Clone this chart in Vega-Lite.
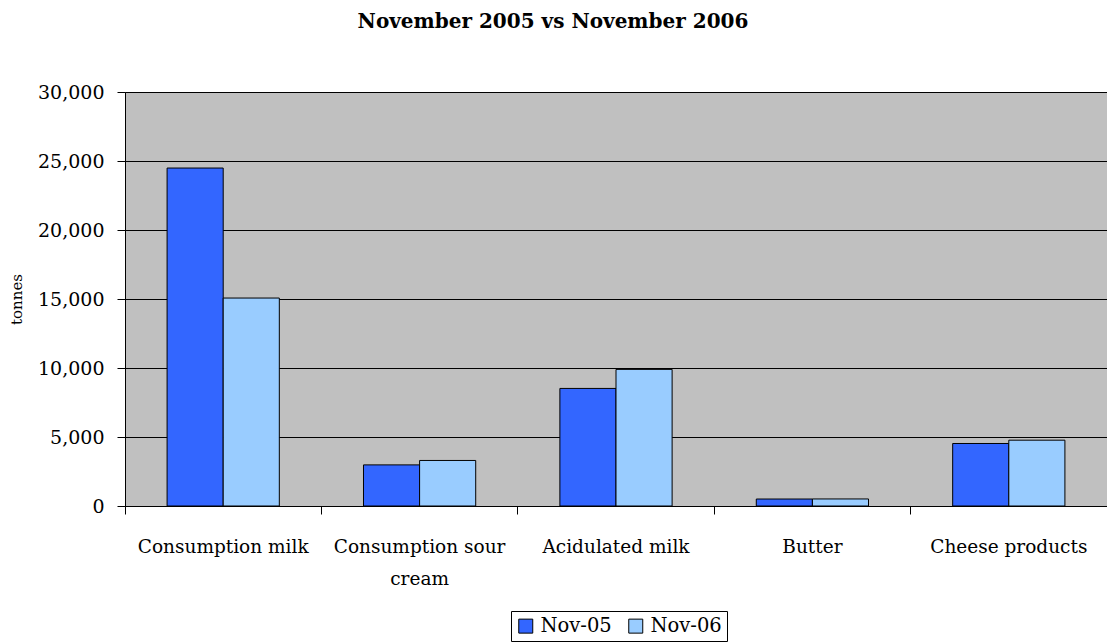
{
  "$schema": "https://vega.github.io/schema/vega-lite/v6.json",
  "width": 982,
  "height": 414,
  "autosize": {"type": "none"},
  "padding": {"left": 125, "top": 92, "right": 0, "bottom": 138},
  "background": "white",
  "title": {
    "text": "November 2005 vs November 2006",
    "font": "DejaVu Serif",
    "fontSize": 20,
    "fontWeight": "bold",
    "color": "black",
    "anchor": "middle",
    "frame": "group",
    "dx": -63,
    "offset": 51
  },
  "config": {
    "view": {"fill": "#C0C0C0", "stroke": "#666666", "strokeWidth": 1}
  },
  "data": {
    "values": [
      {"product": "Consumption milk", "month": "Nov-05", "tonnes": 24490},
      {"product": "Consumption milk", "month": "Nov-06", "tonnes": 15070},
      {"product": "Consumption sour cream", "month": "Nov-05", "tonnes": 2980},
      {"product": "Consumption sour cream", "month": "Nov-06", "tonnes": 3300},
      {"product": "Acidulated milk", "month": "Nov-05", "tonnes": 8520},
      {"product": "Acidulated milk", "month": "Nov-06", "tonnes": 9900},
      {"product": "Butter", "month": "Nov-05", "tonnes": 505},
      {"product": "Butter", "month": "Nov-06", "tonnes": 510},
      {"product": "Cheese products", "month": "Nov-05", "tonnes": 4530},
      {"product": "Cheese products", "month": "Nov-06", "tonnes": 4770}
    ]
  },
  "mark": {"type": "bar", "stroke": "black", "strokeWidth": 1},
  "encoding": {
    "x": {
      "field": "product",
      "type": "nominal",
      "sort": null,
      "scale": {"paddingInner": 0, "paddingOuter": 0},
      "axis": {
        "title": null,
        "grid": false,
        "bandPosition": 0,
        "labelAngle": 0,
        "labelFont": "DejaVu Serif",
        "labelFontSize": 18.5,
        "labelColor": "black",
        "labelPadding": 23,
        "labelLineHeight": 32,
        "labelLimit": 0,
        "labelExpr": "datum.label == 'Consumption sour cream' ? ['Consumption sour', 'cream'] : datum.label",
        "tickSize": 8,
        "tickColor": "black",
        "domainColor": "black"
      }
    },
    "xOffset": {
      "field": "month",
      "type": "nominal",
      "sort": ["Nov-05", "Nov-06"],
      "scale": {"paddingInner": 0, "paddingOuter": 0.75}
    },
    "y": {
      "field": "tonnes",
      "type": "quantitative",
      "scale": {"domain": [0, 30000], "nice": false},
      "axis": {
        "title": "tonnes",
        "titleFont": "DejaVu Serif",
        "titleFontSize": 15,
        "titleFontWeight": "normal",
        "titleColor": "black",
        "titlePadding": 13,
        "values": [0, 5000, 10000, 15000, 20000, 25000, 30000],
        "format": ",d",
        "labelFont": "DejaVu Serif",
        "labelFontSize": 19,
        "labelColor": "black",
        "labelPadding": 13,
        "tickSize": 8,
        "tickColor": "black",
        "domainColor": "black",
        "grid": true,
        "gridColor": "black",
        "gridWidth": 1
      }
    },
    "color": {
      "field": "month",
      "type": "nominal",
      "scale": {"domain": ["Nov-05", "Nov-06"], "range": ["#3366FF", "#99CCFF"]},
      "legend": {
        "title": null,
        "orient": "none",
        "legendX": 386,
        "legendY": 519,
        "direction": "horizontal",
        "strokeColor": "black",
        "fillColor": "white",
        "padding": 5,
        "symbolType": "square",
        "symbolSize": 196,
        "symbolStrokeColor": "black",
        "symbolStrokeWidth": 1,
        "symbolOpacity": 1,
        "labelFont": "DejaVu Serif",
        "labelFontSize": 19.5,
        "labelColor": "black",
        "labelOffset": 5,
        "columnPadding": 14
      }
    }
  }
}
